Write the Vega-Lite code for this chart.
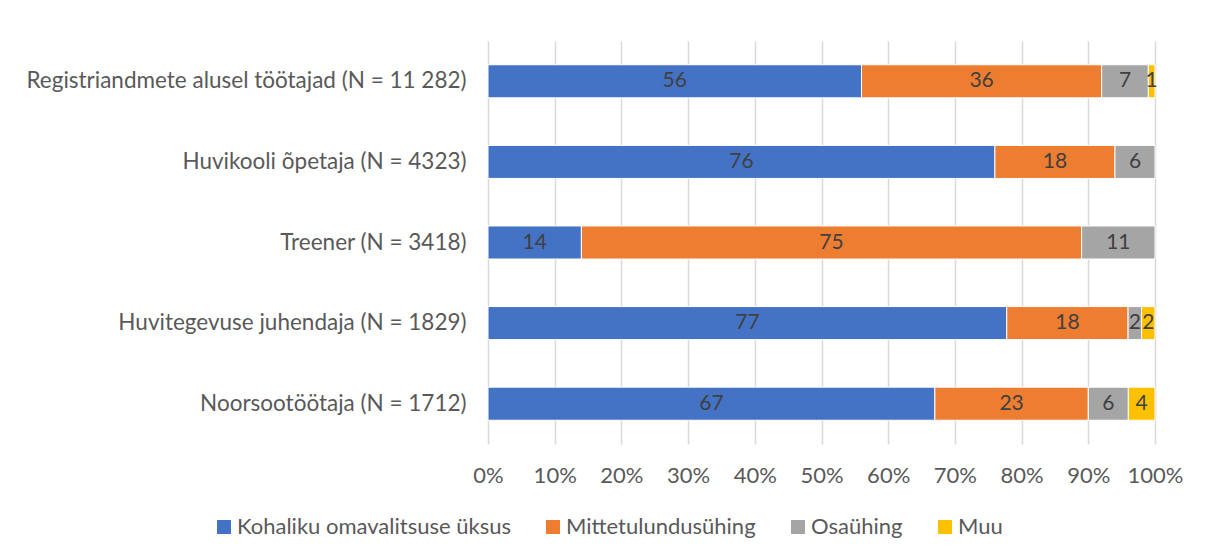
{
  "$schema": "https://vega.github.io/schema/vega-lite/v6.json",
  "width": 667,
  "height": 403,
  "autosize": {"type": "none"},
  "padding": {"left": 488, "top": 41, "right": 54, "bottom": 116},
  "background": "white",
  "data": {
    "values": [
      {"cat": "Registriandmete alusel töötajad (N = 11 282)", "type": "Kohaliku omavalitsuse üksus", "o": 1, "v": 56},
      {"cat": "Registriandmete alusel töötajad (N = 11 282)", "type": "Mittetulundusühing", "o": 2, "v": 36},
      {"cat": "Registriandmete alusel töötajad (N = 11 282)", "type": "Osaühing", "o": 3, "v": 7},
      {"cat": "Registriandmete alusel töötajad (N = 11 282)", "type": "Muu", "o": 4, "v": 1},
      {"cat": "Huvikooli õpetaja (N = 4323)", "type": "Kohaliku omavalitsuse üksus", "o": 1, "v": 76},
      {"cat": "Huvikooli õpetaja (N = 4323)", "type": "Mittetulundusühing", "o": 2, "v": 18},
      {"cat": "Huvikooli õpetaja (N = 4323)", "type": "Osaühing", "o": 3, "v": 6},
      {"cat": "Treener (N = 3418)", "type": "Kohaliku omavalitsuse üksus", "o": 1, "v": 14},
      {"cat": "Treener (N = 3418)", "type": "Mittetulundusühing", "o": 2, "v": 75},
      {"cat": "Treener (N = 3418)", "type": "Osaühing", "o": 3, "v": 11},
      {"cat": "Huvitegevuse juhendaja (N = 1829)", "type": "Kohaliku omavalitsuse üksus", "o": 1, "v": 77},
      {"cat": "Huvitegevuse juhendaja (N = 1829)", "type": "Mittetulundusühing", "o": 2, "v": 18},
      {"cat": "Huvitegevuse juhendaja (N = 1829)", "type": "Osaühing", "o": 3, "v": 2},
      {"cat": "Huvitegevuse juhendaja (N = 1829)", "type": "Muu", "o": 4, "v": 2},
      {"cat": "Noorsootöötaja (N = 1712)", "type": "Kohaliku omavalitsuse üksus", "o": 1, "v": 67},
      {"cat": "Noorsootöötaja (N = 1712)", "type": "Mittetulundusühing", "o": 2, "v": 23},
      {"cat": "Noorsootöötaja (N = 1712)", "type": "Osaühing", "o": 3, "v": 6},
      {"cat": "Noorsootöötaja (N = 1712)", "type": "Muu", "o": 4, "v": 4}
    ]
  },
  "encoding": {
    "y": {
      "field": "cat", "type": "nominal", "sort": null, "title": null,
      "scale": {"paddingInner": 0.59, "paddingOuter": 0.295},
      "axis": {"domain": false, "ticks": false, "labelPadding": 22, "labelFontSize": 22.5, "labelColor": "#595959", "labelFont": "Lato", "labelLimit": 600}
    },
    "x": {
      "field": "v", "type": "quantitative", "stack": "normalize", "title": null,
      "scale": {"domain": [0, 1]},
      "axis": {"format": "%", "values": [0,0.1,0.2,0.3,0.4,0.5,0.6,0.7,0.8,0.9,1], "domain": false, "ticks": false, "labelPadding": 21, "labelFontSize": 22, "labelColor": "#595959", "labelFont": "Lato", "labelFlush": false, "labelOverlap": false, "grid": true, "gridColor": "#d9d9d9", "gridWidth": 1.5}
    },
    "order": {"field": "o", "type": "quantitative"}
  },
  "layer": [
    {
      "mark": {"type": "bar", "stroke": "white", "strokeWidth": 1},
      "encoding": {
        "color": {
          "field": "type", "type": "nominal", "title": null,
          "scale": {"domain": ["Kohaliku omavalitsuse üksus", "Mittetulundusühing", "Osaühing", "Muu"], "range": ["#4472C4", "#ED7D31", "#A5A5A5", "#FFC000"]},
          "legend": {"orient": "none", "legendX": -275, "legendY": 475, "direction": "horizontal", "symbolType": "square", "symbolSize": 196, "symbolStrokeWidth": 0, "symbolOpacity": 1, "labelFontSize": 22, "labelColor": "#595959", "labelFont": "Lato", "labelLimit": 500, "columnPadding": 31, "labelOffset": 2}
        }
      }
    },
    {
      "mark": {"type": "text", "fontSize": 21, "font": "Lato", "color": "#404040"},
      "encoding": {
        "x": {"field": "v", "type": "quantitative", "stack": "normalize", "bandPosition": 0.5},
        "text": {"field": "v", "type": "quantitative"}
      }
    }
  ],
  "config": {"view": {"stroke": null}}
}
